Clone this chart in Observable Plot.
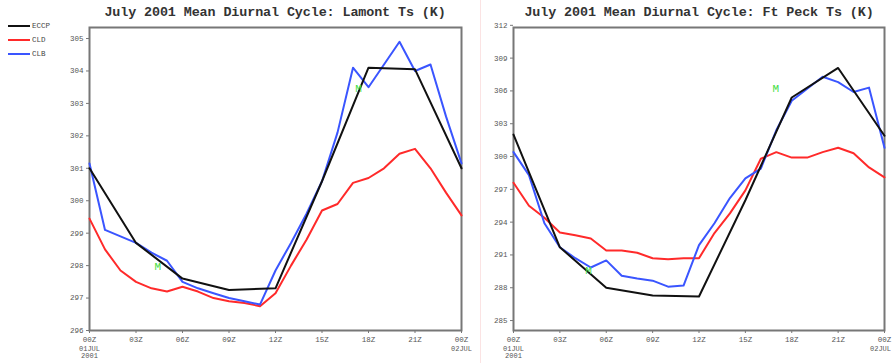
<!DOCTYPE html>
<html>
<head>
<meta charset="utf-8">
<script src="https://cdn.jsdelivr.net/npm/d3@7"></script>
<script src="https://cdn.jsdelivr.net/npm/@observablehq/plot@0.6"></script>
<style>
  html, body { margin: 0; padding: 0; background: #fff; }
  #wrap { position: relative; width: 893px; height: 363px; overflow: hidden; font-family: "Liberation Mono", "DejaVu Sans Mono", monospace; }
  .title { position: absolute; top: 5px; font-size: 13.4px; color: #333; white-space: nowrap; text-align: center; font-weight: bold; letter-spacing: -0.1px; }
  .panel { position: absolute; top: 0; }
  .leg { position: absolute; left: 8px; font-size: 7.5px; color: #444; }
  .leg span.ln { display: inline-block; width: 22px; height: 2px; vertical-align: middle; margin-right: 2px; }
  #divider { position: absolute; left: 480px; top: 0; width: 1px; height: 363px; background: #fbe3e3; }
</style>
</head>
<body>
<div id="wrap">
  <div id="divider"></div>
  <div id="left" class="panel" style="left:0px"></div>
  <div id="right" class="panel" style="left:480px"></div>
  <div class="title" style="left:95px; width:360px;">July 2001 Mean Diurnal Cycle: Lamont Ts (K)</div>
  <div class="title" style="left:518px; width:362px;">July 2001 Mean Diurnal Cycle: Ft Peck Ts (K)</div>
  <div id="legend"></div>
</div>
<script>
// ---- data ----
const seriesNames = ["ECCP", "CLD", "CLB"];
const seriesColors = ["#111111", "#ff2a2a", "#3a55ff"];

const obsHours = [0, 3, 6, 9, 12, 15, 18, 21, 24];
const hourly = [0,1,2,3,4,5,6,7,8,9,10,11,12,13,14,15,16,17,18,19,20,21,22,23,24];

// Lamont
const lamontObs = [301.0, 298.7, 297.6, 297.25, 297.3, 300.6, 304.1, 304.05, 301.0];
const lamontCLD = [299.45, 298.5, 297.85, 297.5, 297.3, 297.2, 297.35, 297.2, 297.0, 296.9, 296.85, 296.75,
                   297.15, 298.0, 298.8, 299.7, 299.9, 300.55, 300.7, 301.0, 301.45, 301.6, 301.0, 300.25, 299.55];
const lamontCLB = [301.15, 299.1, 298.9, 298.7, 298.4, 298.15, 297.5, 297.3, 297.15, 297.0, 296.9, 296.8,
                   297.85, 298.7, 299.6, 300.6, 302.1, 304.1, 303.5, 304.2, 304.9, 304.0, 304.2, 302.6, 301.15];

// Ft Peck
const peckObs = [302.0, 291.7, 288.0, 287.3, 287.2, 296.0, 305.4, 308.1, 301.9];
const peckCLD = [297.6, 295.5, 294.4, 293.05, 292.8, 292.5, 291.4, 291.4, 291.2, 290.7, 290.6, 290.7,
                 290.7, 293.0, 294.8, 296.9, 299.8, 300.4, 299.9, 299.9, 300.4, 300.8, 300.3, 299.0, 298.1];
const peckCLB = [300.4, 298.3, 293.9, 291.7, 290.7, 289.85, 290.5, 289.1, 288.85, 288.65, 288.1, 288.2,
                 291.9, 293.9, 296.2, 298.0, 298.9, 302.4, 305.1, 306.2, 307.3, 306.8, 305.9, 306.3, 300.8];

const xTicks = [0, 3, 6, 9, 12, 15, 18, 21, 24];
const xTickLabels = ["00Z", "03Z", "06Z", "09Z", "12Z", "15Z", "18Z", "21Z", "00Z"];
const xSubLabelsStart = ["01JUL", "2001"];
const xSubLabelEnd = "02JUL";

const lamontYTicks = [296, 297, 298, 299, 300, 301, 302, 303, 304, 305];
const peckYTicks = [285, 288, 291, 294, 297, 300, 303, 306, 309, 312];

const markerLabel = "M";
const lamontMarkers = [{h: 4.4, t: 297.98}, {h: 17.35, t: 303.47}];
const peckMarkers = [{h: 4.85, t: 289.6}, {h: 16.96, t: 306.2}];

// ---- build ----
function rows(hrs, vals, name) { return hrs.map((h, i) => ({h, t: vals[i], s: name})); }

function panel(opts) {
  const {obs, cld, clb, yDomain, yTicks, width, marginLeft, marginRight, markers, endDx} = opts;
  const data = [
    ...rows(hourly, cld, "CLD"),
    ...rows(hourly, clb, "CLB"),
    ...rows(obsHours, obs, "ECCP")
  ];
  const tickLab = new Map(xTicks.map((t, i) => [t, xTickLabels[i]]));
  return Plot.plot({
    width, height: 363,
    marginLeft, marginRight, marginTop: 27, marginBottom: 33,
    style: {fontFamily: "'Liberation Mono', monospace", fontSize: "7.5px", color: "#555", background: "transparent"},
    x: {domain: [0, 24], label: null},
    y: {domain: yDomain, label: null},
    color: {domain: seriesNames, range: seriesColors},
    marks: [
      Plot.frame({stroke: "#777", strokeWidth: 2}),
      Plot.axisX({ticks: xTicks, tickFormat: d => tickLab.get(d), tickSize: 3, tickPadding: 3, stroke: "#777", fill: "#555"}),
      Plot.axisY({ticks: yTicks, tickSize: 3, tickPadding: 3, stroke: "#777", fill: "#555", tickFormat: d => String(d)}),
      Plot.text([0], {x: d => d, frameAnchor: "bottom", dy: 16, text: () => xSubLabelsStart.join("\n"), lineHeight: 1.0, fill: "#555", fontSize: 7, lineAnchor: "top"}),
      Plot.text([24], {x: d => d, frameAnchor: "bottom", dy: 16, dx: endDx, text: () => xSubLabelEnd, fill: "#555", fontSize: 7, lineAnchor: "top"}),
      Plot.line(data, {x: "h", y: "t", z: "s", stroke: "s", strokeWidth: 2, curve: "linear"}),
      Plot.text(markers, {x: "h", y: "t", text: () => markerLabel, fill: "#44dd44", fontSize: 11})
    ]
  });
}

document.getElementById("left").appendChild(panel({
  obs: lamontObs, cld: lamontCLD, clb: lamontCLB,
  yDomain: [296, 305.34], yTicks: lamontYTicks,
  width: 480, marginLeft: 89, marginRight: 19, markers: lamontMarkers, endDx: 0
}));
document.getElementById("right").appendChild(panel({
  obs: peckObs, cld: peckCLD, clb: peckCLB,
  yDomain: [284.09, 311.8], yTicks: peckYTicks,
  width: 413, marginLeft: 33, marginRight: 9, markers: peckMarkers, endDx: -4
}));

// legend
const leg = document.getElementById("legend");
seriesNames.forEach((n, i) => {
  const d = document.createElement("div");
  d.className = "leg";
  d.style.top = (22 + i * 14) + "px";
  d.innerHTML = `<span class="ln" style="background:${seriesColors[i]}"></span>${n}`;
  leg.appendChild(d);
});
</script>
</body>
</html>
